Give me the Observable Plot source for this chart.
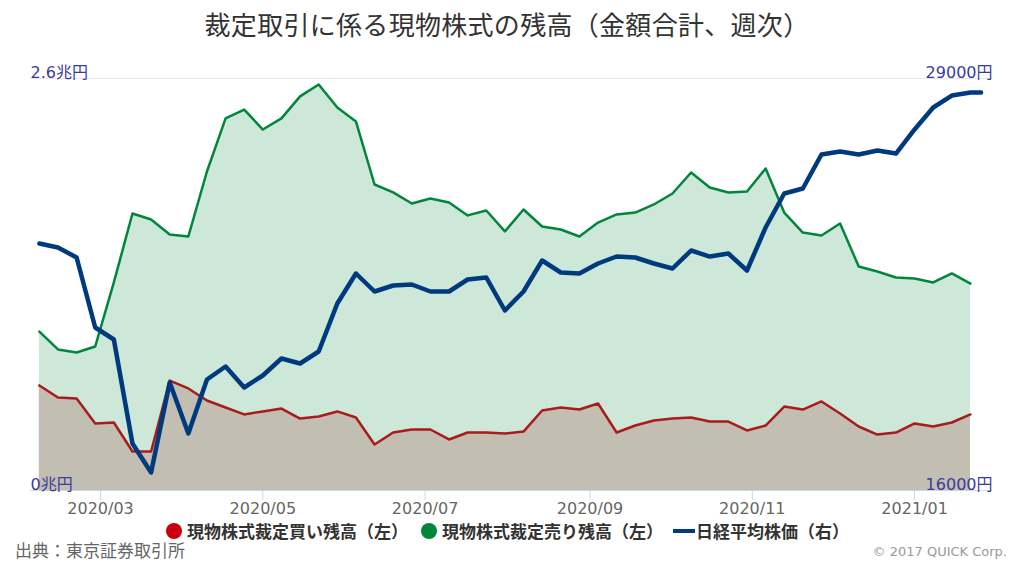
<!DOCTYPE html>
<html><head><meta charset="utf-8">
<script src="https://cdn.jsdelivr.net/npm/d3@7"></script>
<script src="https://cdn.jsdelivr.net/npm/@observablehq/plot@0.6"></script>
<style>
body{margin:0;background:#fff;}
#wrap{position:relative;width:1024px;height:564px;overflow:hidden;font-family:"Noto Sans CJK JP",sans-serif;}
#chart{position:absolute;left:0;top:0;}
#title{position:absolute;left:0;top:9px;width:1014px;text-align:center;font-size:26px;line-height:30px;color:#333;letter-spacing:0.3px;}
#legend{position:absolute;left:166px;top:521px;display:flex;align-items:center;font-size:17px;font-weight:bold;color:#333;line-height:19px;white-space:nowrap;}
.dot{display:inline-block;width:16px;height:16px;border-radius:50%;margin-right:5px;}
.ln{display:inline-block;width:22px;height:4px;margin-right:1px;}
.item{display:flex;align-items:center;margin-right:13px;}
#source{position:absolute;left:15px;top:538px;font-size:17px;color:#666;line-height:24px;}
#copy{position:absolute;right:17px;top:543px;font-size:13px;color:#999;font-family:"DejaVu Sans",sans-serif;line-height:18px;}
</style></head>
<body>
<div id="wrap">
  <div id="chart"></div>
  <div id="title">裁定取引に係る現物株式の残高（金額合計、週次）</div>
  <div id="legend">
    <span class="item"><span class="dot" style="background:#c8000f"></span>現物株式裁定買い残高（左）</span>
    <span class="item" style="margin-right:10px"><span class="dot" style="background:#00873c"></span>現物株式裁定売り残高（左）</span>
    <span class="item"><span class="ln" style="background:#003a7e"></span>日経平均株価（右）</span>
  </div>
  <div id="source">出典：東京証券取引所</div>
  <div id="copy">© 2017 QUICK Corp.</div>
</div>
<script>
// weekly dates (arbitrage balances)
const dates = [
  "2020-02-07","2020-02-14","2020-02-21","2020-02-28","2020-03-06","2020-03-13","2020-03-20","2020-03-27",
  "2020-04-03","2020-04-10","2020-04-17","2020-04-24","2020-05-01","2020-05-08","2020-05-15","2020-05-22","2020-05-29",
  "2020-06-05","2020-06-12","2020-06-19","2020-06-26","2020-07-03","2020-07-10","2020-07-17","2020-07-24","2020-07-31",
  "2020-08-07","2020-08-14","2020-08-21","2020-08-28","2020-09-04","2020-09-11","2020-09-18","2020-09-25",
  "2020-10-02","2020-10-09","2020-10-16","2020-10-23","2020-10-30","2020-11-06","2020-11-13","2020-11-20","2020-11-27",
  "2020-12-04","2020-12-11","2020-12-18","2020-12-25","2021-01-01","2021-01-08","2021-01-15","2021-01-22"
];
// 現物株式裁定買い残高（兆円）
const buyBalance = [
  0.663,0.587,0.581,0.423,0.429,0.246,0.246,0.694,
  0.644,0.568,0.524,0.480,0.499,0.517,0.454,0.467,0.499,
  0.461,0.290,0.366,0.385,0.385,0.322,0.366,0.366,0.360,
  0.372,0.505,0.524,0.511,0.549,0.366,0.410,0.442,
  0.454,0.461,0.435,0.435,0.379,0.410,0.530,0.511,0.562,
  0.486,0.404,0.353,0.366,0.423,0.404,0.429,0.480
];
// 現物株式裁定売り残高（兆円）
const sellBalance = [
  1.003,0.890,0.871,0.909,1.313,1.748,1.710,1.616,
  1.603,2.013,2.348,2.404,2.278,2.348,2.487,2.562,2.417,
  2.329,1.931,1.881,1.811,1.843,1.818,1.736,1.767,1.635,
  1.773,1.666,1.647,1.603,1.691,1.742,1.754,1.805,
  1.874,2.007,1.912,1.881,1.887,2.032,1.754,1.628,1.609,
  1.685,1.414,1.382,1.344,1.338,1.313,1.370,1.306
];
// 日経平均株価（円）
const nikkeiDates = dates.concat(["2021-01-26"]);
const nikkei = [
  23794,23667,23352,21143,20765,17483,16568,19408,
  17799,19502,19913,19250,19629,20165,20007,20386,21900,
  22847,22279,22468,22500,22279,22279,22658,22721,21680,
  22279,23257,22879,22847,23163,23383,23352,23163,
  23005,23573,23383,23478,22942,24298,25371,25529,26602,
  26696,26602,26728,26633,27391,28085,28463,28558,28558
];
// axis settings
const leftTicks = [0, 2.6];
const rightMin = 16000, rightMax = 29000;
const xTicks = ["2020-03-01","2020-05-01","2020-07-01","2020-09-01","2020-11-01","2021-01-01"];

const rows = dates.map((d, i) => ({date: new Date(d), buy: buyBalance[i], sell: sellBalance[i]}));
const toLeft = v => (v - rightMin) / (rightMax - rightMin) * leftTicks[1];
const nk = nikkeiDates.map((d, i) => ({date: new Date(d), v: toLeft(nikkei[i])}));

const axisColor = "#3b3b9c";
const chart = Plot.plot({
  width: 1024, height: 564,
  marginTop: 78, marginBottom: 74, marginLeft: 30, marginRight: 32,
  style: {fontFamily: '"DejaVu Sans","Noto Sans CJK JP",sans-serif', background: "transparent", overflow: "visible"},
  x: {type: "utc", domain: [new Date("2020-02-03T16:00Z"), new Date("2021-01-30T07:00Z")]},
  y: {domain: [0, 2.6]},
  marks: [
    Plot.ruleY([leftTicks[1]], {stroke: "#e6e6e6"}),
    Plot.areaY(rows, {x: "date", y: "sell", fill: "#cde7d8"}),
    Plot.areaY(rows, {x: "date", y: "buy", fill: "#c3beb2"}),
    Plot.lineY(rows, {x: "date", y: "sell", stroke: "#00873c", strokeWidth: 2.5}),
    Plot.lineY(rows, {x: "date", y: "buy", stroke: "#a81c1c", strokeWidth: 2.5}),
    Plot.ruleY([0], {stroke: "#ccd6eb"}),
    Plot.lineY(nk, {x: "date", y: "v", stroke: "#003a7e", strokeWidth: 4.5, strokeLinejoin: "round", strokeLinecap: "round"}),
    Plot.axisX({ticks: xTicks.map(d => new Date(d)), tickFormat: d3.utcFormat("%Y/%m"), tickSize: 10, tickPadding: 2,
      stroke: "#ccd6eb", fill: "#666", fontSize: 16, label: null}),
    Plot.axisY({anchor: "left", ticks: leftTicks, tickSize: 0, tickPadding: 0, textAnchor: "start", dy: -6,
      tickFormat: d => d + "兆円", fill: axisColor, fontSize: 16, label: null}),
    Plot.axisY({anchor: "right", ticks: leftTicks, tickSize: 0, tickPadding: 0, textAnchor: "end", dy: -6,
      tickFormat: d => Math.round(rightMin + d / leftTicks[1] * (rightMax - rightMin)) + "円", fill: axisColor, fontSize: 16, label: null})
  ]
});
document.getElementById("chart").appendChild(chart);
</script>
</body></html>
